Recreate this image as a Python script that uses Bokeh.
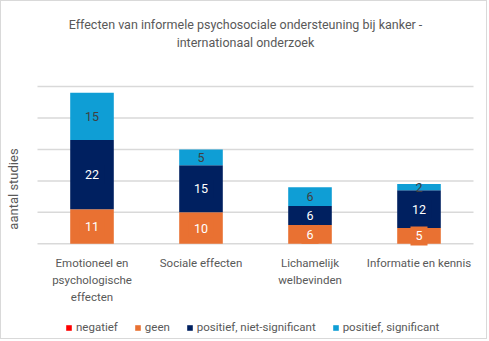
import math
from bokeh.plotting import figure
from bokeh.models import Range1d, Label, Legend, LegendItem, ColumnDataSource
from bokeh.embed import file_html
from bokeh.resources import INLINE

# ---- data ----
title_lines = ["Effecten van informele psychosociale ondersteuning bij kanker -",
               "internationaal onderzoek"]
y_title = "aantal studies"
categories = ["Emotioneel en psychologische effecten", "Sociale effecten",
              "Lichamelijk welbevinden", "Informatie en kennis"]
category_lines = [["Emotioneel en", "psychologische", "effecten"],
                  ["Sociale effecten"],
                  ["Lichamelijk", "welbevinden"],
                  ["Informatie en kennis"]]
series = ["negatief", "geen", "positief, niet-significant", "positief, significant"]
negatief = [0, 0, 0, 0]
geen = [11, 10, 6, 5]
pos_niet = [22, 15, 6, 12]
pos_sig = [15, 5, 6, 2]
y_ticks = [0, 10, 20, 30, 40, 50]

# ---- style / layout ----
FONT = "Roboto"
colors = ["#FF0000", "#E97132", "#002060", "#0F9ED5"]
label_colors = ["#FFFFFF", "#FFFFFF", "#FFFFFF", "#404040"]
label_bg = [True, True, True, False]
GRAY = "#595959"
W, H = 487, 339
# pixel placement of the plot area inside the canvas
PX_LEFT, PX_RIGHT = 36, 472
PX_TOP, PX_BOTTOM = 85, 242.3

n = len(categories)
ux = (PX_RIGHT - PX_LEFT) / n
uy = (PX_BOTTOM - PX_TOP) / (y_ticks[-1] - y_ticks[0])
x_range = Range1d(-PX_LEFT / ux, n + (W - PX_RIGHT) / ux)
y_range = Range1d(y_ticks[0] - (H - PX_BOTTOM) / uy, y_ticks[-1] + PX_TOP / uy)

x_pos = [i + 0.5 for i in range(n)]
keys = ["negatief", "geen", "pos_niet", "pos_sig"]
values = [negatief, geen, pos_niet, pos_sig]
src = ColumnDataSource(dict(x=x_pos, negatief=negatief, geen=geen, pos_niet=pos_niet, pos_sig=pos_sig))

p = figure(width=W, height=H, x_range=x_range, y_range=y_range,
           output_backend="svg", toolbar_location=None,
           min_border_left=0, min_border_right=0, min_border_top=0, min_border_bottom=0)
p.styles = {"border": "1px solid #d9d9d9"}
p.xaxis.visible = False
p.yaxis.visible = False
p.grid.visible = False
p.outline_line_color = None

# horizontal gridlines across the plot area
p.segment(x0=[0] * len(y_ticks), x1=[n] * len(y_ticks), y0=y_ticks, y1=y_ticks,
          line_color="#d9d9d9", line_width=1.5)

renderers = p.vbar_stack(keys, x="x", width=0.4, fill_color=colors, line_color=None, source=src)

# data labels
for i, xv in enumerate(x_pos):
    cum = 0
    for k, vals in enumerate(values):
        v = vals[i]
        if v > 0:
            kw = dict(x=xv, y=cum + v / 2, text=str(v), text_align="center", text_baseline="middle",
                      text_color=label_colors[k], text_font=FONT, text_font_size="12.5px")
            if label_bg[k]:
                kw.update(background_fill_color=colors[k], padding=5)
            p.add_layout(Label(**kw))
        cum += v

# title
for j, t in enumerate(title_lines):
    p.add_layout(Label(x=244, y=316 - 18 * j, x_units="screen", y_units="screen", text=t,
                       text_align="center", text_baseline="middle", text_font=FONT,
                       text_font_size="12.5px", text_color=GRAY))

# y axis title
p.add_layout(Label(x=11.5, y=151.5, x_units="screen", y_units="screen", text=y_title,
                   angle=math.pi / 2, text_align="center", text_baseline="middle",
                   text_font=FONT, text_font_size="13px", text_color=GRAY))

# category labels
for i, lines in enumerate(category_lines):
    for j, t in enumerate(lines):
        p.add_layout(Label(x=x_pos[i], y=77.6 - 17.2 * j, y_units="screen", text=t,
                           text_align="center", text_baseline="middle", text_font=FONT,
                           text_font_size="11.5px", text_color=GRAY))

legend = Legend(items=[LegendItem(label=s, renderers=[r]) for s, r in zip(series, renderers)],
                orientation="horizontal", location=(64, 6), glyph_width=7, glyph_height=7,
                label_height=14, label_standoff=4, spacing=16, padding=0, margin=0,
                border_line_color=None, background_fill_alpha=0,
                label_text_font=FONT, label_text_font_size="11.5px", label_text_color=GRAY)
p.add_layout(legend)

open("out.html", "w").write(file_html(p, INLINE))
